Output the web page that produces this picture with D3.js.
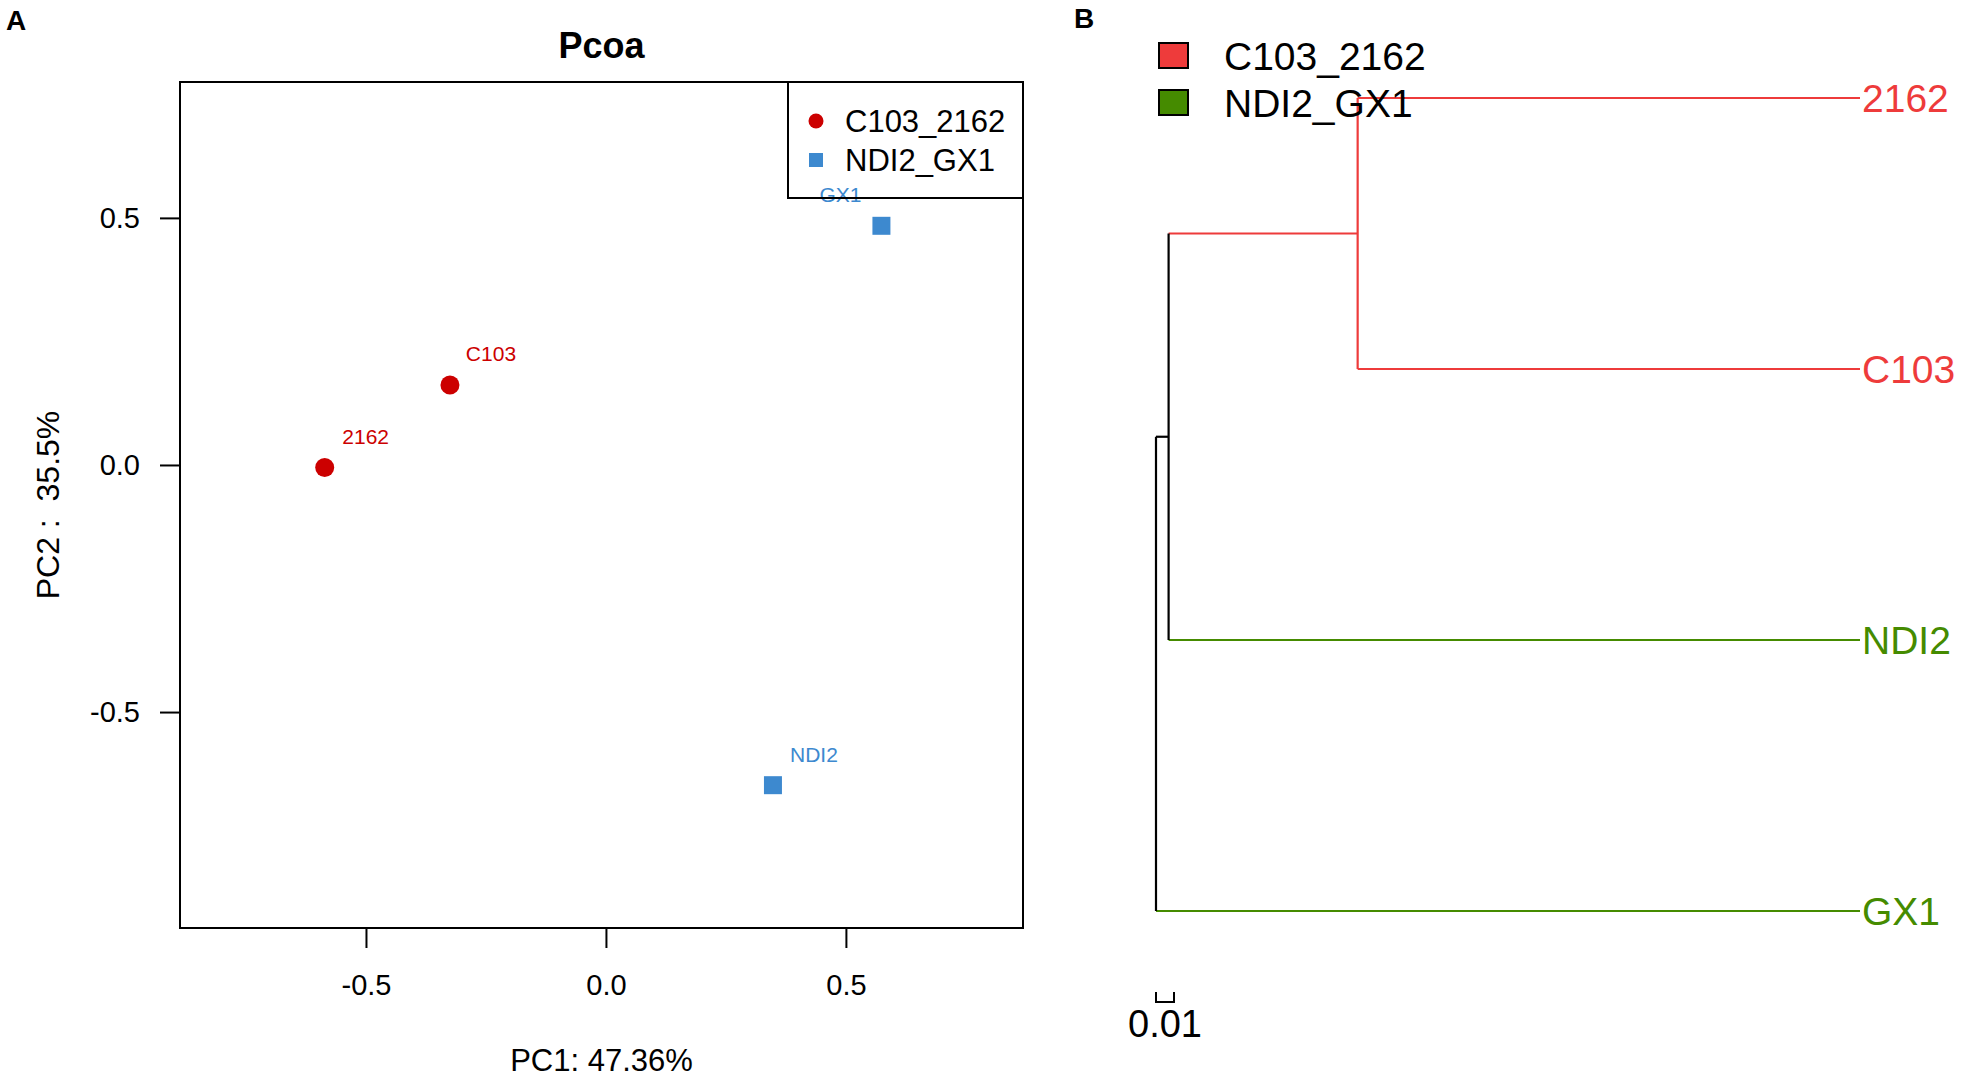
<!DOCTYPE html>
<html>
<head>
<meta charset="utf-8">
<script src="https://cdn.jsdelivr.net/npm/d3@7"></script>
<style>
  body { margin: 0; background: #fff; }
  svg { font-family: "Liberation Sans", Arial, sans-serif; }
</style>
</head>
<body>
<svg id="fig"></svg>
<script>
// ---- data: PCoA ----
const samples = ["2162", "C103", "GX1", "NDI2"];
const sampleGroup = ["C103_2162", "C103_2162", "NDI2_GX1", "NDI2_GX1"];
const pc1 = [-0.586, -0.325, 0.574, 0.348];
const pc2 = [-0.005, 0.162, 0.484, -0.648];
const groupNames = ["C103_2162", "NDI2_GX1"];
const xTicks = [-0.5, 0.0, 0.5];
const yTicks = [-0.5, 0.0, 0.5];

// ---- data: dendrogram ----
const nodeIds = ["root", "n1", "n2", "2162", "C103", "NDI2", "GX1"];
const nodeParents = ["", "root", "n1", "n2", "n2", "n1", "root"];
const nodeHeights = [0.391, 0.384, 0.279, 0, 0, 0, 0];
const leafOrder = ["2162", "C103", "NDI2", "GX1"];
const leafGroup = ["C103_2162", "C103_2162", "NDI2_GX1", "NDI2_GX1"];
const scaleBarValue = 0.01;

const width = 1961;
const height = 1081;

const svg = d3.select("#fig")
    .attr("width", width)
    .attr("height", height);

// ================= Panel A =================
const pcoaColor = d3.scaleOrdinal().domain(groupNames).range(["#CC0000", "#3D89CF"]);
const labelSide = { "2162": 1, "C103": 1, "GX1": -1, "NDI2": 1 };

const box = { left: 180, right: 1023, top: 82, bottom: 928 };

const x = d3.scaleLinear()
    .domain([-0.8875, 0.869])
    .range([box.left, box.right]);

const y = d3.scaleLinear()
    .domain([-0.937, 0.775])
    .range([box.bottom, box.top]);

svg.append("text")
    .attr("x", 6).attr("y", 30)
    .attr("font-size", 28).attr("font-weight", "bold")
    .text("A");

svg.append("text")
    .attr("x", (box.left + box.right) / 2).attr("y", 58)
    .attr("text-anchor", "middle")
    .attr("font-size", 36).attr("font-weight", "bold")
    .text("Pcoa");

const fmt = d => d.toFixed(1).replace("\u2212", "-");

const xAxis = svg.append("g")
    .attr("transform", `translate(0,${box.bottom})`)
    .call(d3.axisBottom(x).tickValues(xTicks).tickFormat(fmt).tickSize(20).tickPadding(26));

const yAxis = svg.append("g")
    .attr("transform", `translate(${box.left},0)`)
    .call(d3.axisLeft(y).tickValues(yTicks).tickFormat(fmt).tickSize(20).tickPadding(20));

[xAxis, yAxis].forEach(a => {
    a.select(".domain").remove();
    a.selectAll(".tick line").attr("stroke", "#000").attr("stroke-width", 2);
    a.selectAll(".tick text")
        .attr("font-size", 29)
        .attr("fill", "#000")
        .attr("font-family", "Liberation Sans, Arial, sans-serif");
});

svg.append("rect")
    .attr("x", box.left).attr("y", box.top)
    .attr("width", box.right - box.left).attr("height", box.bottom - box.top)
    .attr("fill", "none").attr("stroke", "#000").attr("stroke-width", 2);

svg.append("text")
    .attr("x", (box.left + box.right) / 2).attr("y", 1071)
    .attr("text-anchor", "middle")
    .attr("font-size", 31)
    .text("PC1: 47.36%");

svg.append("text")
    .attr("transform", `translate(59,${(box.top + box.bottom) / 2}) rotate(-90)`)
    .attr("text-anchor", "middle")
    .attr("font-size", 32)
    .attr("xml:space", "preserve")
    .style("white-space", "pre")
    .text("PC2 :  35.5%");

const pts = samples.map((s, i) => ({ name: s, group: sampleGroup[i], x: pc1[i], y: pc2[i] }));

const sym = d3.scaleOrdinal().domain(groupNames).range([d3.symbolCircle, d3.symbolSquare]);
const symSize = d3.scaleOrdinal().domain(groupNames).range([Math.PI * 9.5 * 9.5, 18 * 18]);

svg.append("g").selectAll("path")
    .data(pts)
    .join("path")
    .attr("transform", d => `translate(${x(d.x)},${y(d.y)})`)
    .attr("d", d => d3.symbol(sym(d.group), symSize(d.group))())
    .attr("fill", d => pcoaColor(d.group));

svg.append("g").selectAll("text")
    .data(pts)
    .join("text")
    .attr("x", d => x(d.x) + 41 * labelSide[d.name])
    .attr("y", d => y(d.y) - 31)
    .attr("dy", "0.35em")
    .attr("text-anchor", "middle")
    .attr("font-size", 21)
    .attr("fill", d => pcoaColor(d.group))
    .text(d => d.name);

// legend A
const legA = svg.append("g");
legA.append("rect")
    .attr("x", 788).attr("y", box.top)
    .attr("width", box.right - 788).attr("height", 198 - box.top)
    .attr("fill", "none").attr("stroke", "#000").attr("stroke-width", 2);

const legAItems = legA.selectAll("g")
    .data(groupNames)
    .join("g")
    .attr("transform", (d, i) => `translate(816,${121 + i * 39})`);

legAItems.append("path")
    .attr("d", d => d3.symbol(sym(d), d === groupNames[0] ? Math.PI * 7.5 * 7.5 : 14 * 14)())
    .attr("fill", d => pcoaColor(d));

legAItems.append("text")
    .attr("x", 29)
    .attr("dy", "0.36em")
    .attr("font-size", 31)
    .text(d => d);

// ================= Panel B =================
const treeColor = d3.scaleOrdinal().domain(groupNames).range(["#EE3B3B", "#458B00"]);

svg.append("text")
    .attr("x", 1074).attr("y", 28)
    .attr("font-size", 28).attr("font-weight", "bold")
    .text("B");

const rows = nodeIds.map((id, i) => ({ id, parent: nodeParents[i], h: nodeHeights[i] }));
const root = d3.stratify()
    .id(d => d.id)
    .parentId(d => d.parent || null)(rows);

const hx = d3.scaleLinear()
    .domain([0, nodeHeights[0]])
    .range([1860, 1156]);

const ly = d3.scalePoint()
    .domain(leafOrder)
    .range([98, 911]);

const groupOf = new Map(leafOrder.map((l, i) => [l, leafGroup[i]]));

root.eachAfter(n => {
    if (!n.children) {
        n.py = ly(n.id);
        n.grp = groupOf.get(n.id);
    } else {
        n.children.sort((a, b) => leafOrder.indexOf(a.leaves()[0].id) - leafOrder.indexOf(b.leaves()[0].id));
        n.py = d3.mean(n.children, c => c.py);
        const g = new Set(n.children.map(c => c.grp));
        n.grp = g.size === 1 && !g.has(null) ? [...g][0] : null;
    }
    n.px = hx(n.data.h);
});

const edgeColor = n => n.grp ? treeColor(n.grp) : "#000";

const treeG = svg.append("g").attr("fill", "none").attr("stroke-width", 2.2);

// horizontal branches
treeG.selectAll("line.h")
    .data(root.descendants().filter(n => n.parent))
    .join("line")
    .attr("class", "h")
    .attr("x1", d => d.parent.px).attr("x2", d => d.px)
    .attr("y1", d => d.py).attr("y2", d => d.py)
    .attr("stroke", edgeColor);

// vertical connectors
treeG.selectAll("line.v")
    .data(root.descendants().filter(n => n.children))
    .join("line")
    .attr("class", "v")
    .attr("x1", d => d.px).attr("x2", d => d.px)
    .attr("y1", d => d3.min(d.children, c => c.py)).attr("y2", d => d3.max(d.children, c => c.py))
    .attr("stroke", edgeColor);

svg.append("g").selectAll("text")
    .data(root.leaves())
    .join("text")
    .attr("x", d => d.px + 2)
    .attr("y", d => d.py)
    .attr("dy", "0.36em")
    .attr("font-size", 39)
    .attr("fill", d => treeColor(d.grp))
    .text(d => d.id);

// scale bar
const sbX0 = hx(nodeHeights[0]);
const sbX1 = hx(nodeHeights[0] - scaleBarValue);
svg.append("path")
    .attr("d", `M${sbX0},992V1002H${sbX1}V992`)
    .attr("fill", "none").attr("stroke", "#000").attr("stroke-width", 2);
svg.append("text")
    .attr("x", (sbX0 + sbX1) / 2).attr("y", 1037)
    .attr("text-anchor", "middle")
    .attr("font-size", 38)
    .text(scaleBarValue);

// legend B
const legB = svg.append("g").selectAll("g")
    .data(groupNames)
    .join("g")
    .attr("transform", (d, i) => `translate(1159,${43 + i * 47})`);

legB.append("rect")
    .attr("width", 29).attr("height", 25)
    .attr("fill", d => treeColor(d))
    .attr("stroke", "#000").attr("stroke-width", 2);

legB.append("text")
    .attr("x", 65).attr("y", 12.5)
    .attr("dy", "0.36em")
    .attr("font-size", 39)
    .text(d => d);
</script>
</body>
</html>
